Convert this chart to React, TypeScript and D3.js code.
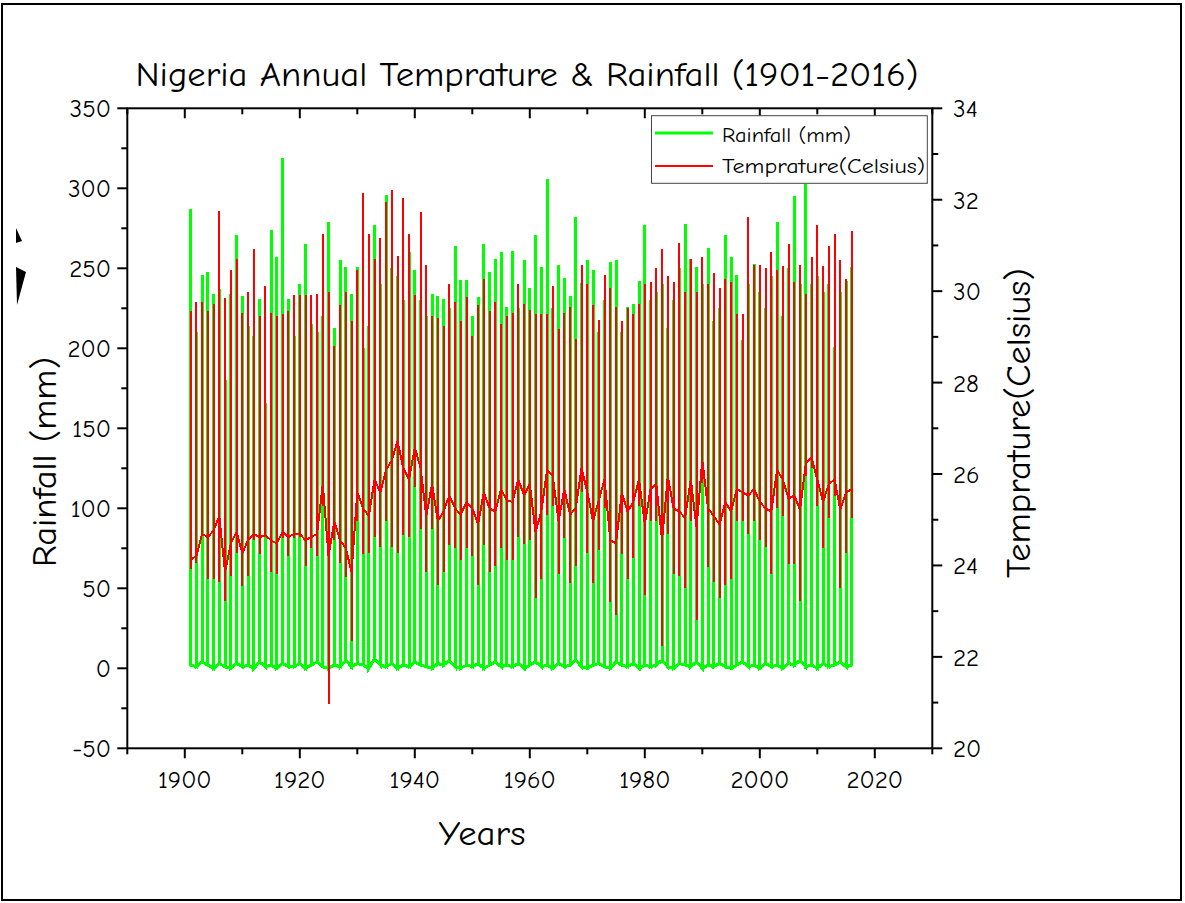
import * as d3 from 'd3';

// years 1901..2016, one vertical spike per year (all monthly values share the same x)
const years = d3.range(1901, 2017);

// rainfall (mm): wettest month per year, and driest month per year
const rainPeak = [
    287, 210, 246, 248, 234, 237, 180, 234, 271, 233,
    214, 208, 231, 166, 274, 257, 319, 231, 208, 240,
    265, 215, 210, 220, 279, 213, 255, 251, 234, 251,
    200, 214, 277, 240, 296, 250, 245, 230, 260, 249,
    230, 220, 234, 233, 231, 225, 264, 243, 243, 220,
    232, 265, 248, 256, 260, 226, 261, 225, 255, 238,
    271, 251, 306, 225, 252, 244, 233, 282, 241, 255,
    249, 210, 230, 254, 255, 210, 226, 228, 242, 277,
    230, 235, 240, 213, 230, 250, 278, 256, 251, 240,
    263, 217, 225, 271, 257, 246, 205, 240, 253, 235,
    225, 245, 279, 220, 250, 295, 240, 303, 240, 245,
    235, 240, 201, 235, 242, 251,
];
const rainLow = [
    2, 1, 4, 2, 0, 3, 1, 0, 3, 1,
    2, 0, 4, 1, 2, 0, 3, 1, 1, 3,
    0, 2, 4, 1, 0, 2, 1, 5, 1, 3,
    2, 0, 6, 2, 1, 3, 0, 2, 1, 4,
    2, 1, 0, 3, 2, 5, 1, 0, 2, 1,
    3, 0, 2, 4, 1, 2, 1, 3, 0, 2,
    4, 1, 2, 0, 3, 1, 2, 5, 1, 0,
    2, 3, 1, 0, 4, 2, 1, 3, 0, 2,
    1, 2, 5, 1, 0, 3, 2, 1, 4, 0,
    2, 1, 3, 1, 0, 2, 4, 1, 2, 0,
    3, 1, 2, 0, 3, 2, 5, 1, 2, 0,
    3, 1, 2, 4, 1, 2,
];

// temperature (Celsius): hottest month, coolest month, and Dec/Jan level per year
const tempMax = [
    29.56, 29.77, 29.77, 29.56, 29.73, 31.76, 29.84, 30.47, 30.71, 29.52,
    29.98, 30.92, 29.45, 30.12, 29.52, 29.45, 29.49, 29.56, 29.91, 29.91,
    29.91, 29.91, 29.94, 31.24, 29.98, 28.79, 29.70, 29.98, 29.35, 30.47,
    32.15, 31.24, 30.71, 31.17, 31.94, 32.22, 30.78, 32.04, 31.24, 29.91,
    31.73, 30.57, 29.45, 29.42, 29.24, 30.15, 29.77, 29.35, 29.87, 29.03,
    29.70, 30.26, 29.56, 29.77, 29.28, 29.45, 29.52, 30.15, 29.73, 29.59,
    29.49, 29.49, 29.49, 30.12, 29.17, 29.52, 29.66, 28.96, 30.57, 30.15,
    29.70, 29.38, 30.36, 30.08, 29.66, 29.35, 29.63, 29.49, 29.73, 30.15,
    30.19, 30.50, 30.92, 30.33, 30.19, 31.06, 29.98, 30.71, 29.98, 30.75,
    30.15, 30.40, 30.08, 30.26, 30.19, 29.49, 29.49, 31.62, 30.57, 30.57,
    30.50, 30.85, 30.47, 30.54, 31.03, 30.19, 30.57, 29.94, 30.75, 31.45,
    30.54, 30.99, 31.24, 30.68, 30.26, 31.31,
];
const tempMin = [
    23.92, 24.06, 24.69, 23.71, 23.71, 23.64, 23.22, 23.78, 24.27, 23.54,
    23.78, 24.55, 24.24, 24.62, 23.85, 23.82, 24.59, 24.20, 24.59, 24.62,
    23.99, 24.38, 24.20, 25.29, 20.98, 24.55, 24.06, 23.75, 22.35, 24.97,
    24.24, 24.27, 24.62, 24.41, 24.97, 24.41, 24.27, 24.66, 24.62, 25.71,
    24.80, 23.85, 24.80, 23.57, 23.85, 24.45, 24.38, 24.13, 24.38, 24.20,
    23.57, 24.45, 23.85, 23.99, 24.38, 24.13, 24.13, 24.62, 24.48, 24.55,
    23.29, 23.71, 25.11, 25.29, 23.82, 24.59, 23.61, 23.99, 25.60, 24.27,
    23.61, 24.34, 25.25, 23.19, 22.91, 24.24, 23.71, 24.17, 25.29, 23.36,
    24.97, 24.97, 22.24, 24.69, 23.82, 23.78, 23.50, 24.97, 22.80, 25.81,
    23.96, 23.64, 23.29, 23.57, 23.71, 24.97, 24.97, 24.69, 24.97, 24.55,
    24.41, 23.82, 25.25, 25.08, 24.03, 24.03, 23.22, 25.95, 26.13, 25.29,
    24.38, 25.04, 25.53, 23.50, 24.27, 25.04,
];
const tempEdge = [
    24.13, 24.20, 24.69, 24.62, 24.76, 25.08, 23.85, 24.48, 24.73, 24.27,
    24.55, 24.69, 24.62, 24.66, 24.55, 24.48, 24.73, 24.62, 24.69, 24.69,
    24.55, 24.62, 24.69, 25.78, 24.20, 24.97, 24.55, 24.38, 23.85, 25.60,
    25.25, 25.08, 25.88, 25.60, 26.09, 26.30, 26.72, 26.13, 25.88, 26.58,
    26.13, 25.08, 25.78, 24.97, 25.18, 25.53, 25.25, 25.11, 25.39, 25.25,
    24.90, 25.60, 25.25, 25.18, 25.67, 25.43, 25.39, 25.88, 25.53, 25.78,
    24.73, 25.18, 26.09, 25.95, 24.97, 25.67, 25.11, 25.25, 26.13, 25.60,
    24.97, 25.43, 25.88, 24.55, 24.48, 25.60, 25.18, 25.39, 25.88, 24.90,
    25.67, 25.78, 24.55, 25.95, 25.25, 25.18, 25.04, 25.88, 24.83, 26.30,
    25.25, 25.08, 24.90, 25.39, 25.18, 25.67, 25.60, 25.53, 25.67, 25.39,
    25.25, 25.18, 26.09, 25.88, 25.46, 25.53, 25.22, 26.23, 26.37, 25.88,
    25.39, 25.78, 25.88, 25.22, 25.60, 25.67,
];

const xTicks = d3.range(1890, 2031, 10);
const xLabels = [1900, 1920, 1940, 1960, 1980, 2000, 2020];
const rainTicks = d3.range(-50, 351, 25);
const tempTicks = d3.range(20, 35, 1);

const W = 1185;
const H = 903;
const margin = { top: 108.3, right: 252.7, bottom: 154.7, left: 127.3 };
const FONT = "'Comic Sans MS', 'Comic Neue', 'DejaVu Sans', sans-serif";

const App = () => {
    const x = d3.scaleLinear().domain([1890, 2030]).range([margin.left, W - margin.right]);
    const yRain = d3.scaleLinear().domain([-50, 350]).range([H - margin.bottom, margin.top]);
    const yTemp = d3.scaleLinear().domain([20, 34]).range([H - margin.bottom, margin.top]);

    const x0 = margin.left;
    const x1 = W - margin.right;
    const y0 = H - margin.bottom;
    const y1 = margin.top;

    // rain: low -> peak -> low at each year, then on to the next year
    const rainPts = years.flatMap((yr, i) =>
        [[yr, rainLow[i]], [yr, rainPeak[i]], [yr, rainLow[i]]] as [number, number][]);
    // temp: edge -> max -> min -> edge at each year, joined Dec -> Jan
    const tempPts = years.flatMap((yr, i) =>
        [[yr, tempEdge[i]], [yr, tempMax[i]], [yr, tempMin[i]], [yr, tempEdge[i]]] as [number, number][]);

    const rainLine = d3.line<[number, number]>().x(d => x(d[0])).y(d => yRain(d[1]));
    const tempLine = d3.line<[number, number]>().x(d => x(d[0])).y(d => yTemp(d[1]));

    const major = 10;
    const minor = 6;

    return (
        <svg width={W} height={H} style={{ position: 'absolute', left: 0, top: 0, background: '#fff' }}
            fontFamily={FONT}>
            <rect x={2} y={4} width={1179} height={896} fill='none' stroke='#000' strokeWidth={2} />

            {/* stray marks on the left edge */}
            <path d='M16,228 L22,241 L16,243 Z' fill='#000' />
            <path d='M16,267 L26,272 L17,305 Z' fill='#000' />

            <text x={527} y={86} fontSize={34} textAnchor='middle' textLength={783}
                lengthAdjust='spacingAndGlyphs'>Nigeria Annual Temprature &amp; Rainfall (1901-2016)</text>

            <defs>
                <clipPath id='plot'>
                    <rect x={x0} y={y1} width={x1 - x0} height={y0 - y1} />
                </clipPath>
            </defs>

            <g clipPath='url(#plot)'>
                <path d={rainLine(rainPts) as string} fill='none' stroke='#00FF00' strokeWidth={3}
                    shapeRendering='crispEdges' />
                <path d={tempLine(tempPts) as string} fill='none' stroke='#FF0000' strokeWidth={2}
                    shapeRendering='crispEdges' />
            </g>

            {/* bottom + top axis ticks */}
            {xTicks.map(t => {
                const len = t % 20 === 0 ? major : minor;
                return (
                    <g key={'x' + t}>
                        <line x1={x(t)} x2={x(t)} y1={y0} y2={y0 + len} stroke='#000' strokeWidth={2} />
                        <line x1={x(t)} x2={x(t)} y1={y1} y2={y1 + len} stroke='#000' strokeWidth={2} />
                    </g>
                );
            })}
            {xLabels.map(t => (
                <text key={'xl' + t} x={x(t)} y={788} fontSize={25} textAnchor='middle'>{t}</text>
            ))}

            {/* left axis (rainfall) */}
            {rainTicks.map(t => {
                const len = t % 50 === 0 ? major : minor;
                return <line key={'r' + t} x1={x0 - len} x2={x0} y1={yRain(t)} y2={yRain(t)}
                    stroke='#000' strokeWidth={2} />;
            })}
            {rainTicks.filter(t => t % 50 === 0).map(t => (
                <text key={'rl' + t} x={111} y={yRain(t)} dy='0.36em' fontSize={25} textAnchor='end'>{t}</text>
            ))}

            {/* right axis (temperature) */}
            {tempTicks.map(t => {
                const len = t % 2 === 0 ? major : minor;
                return <line key={'t' + t} x1={x1} x2={x1 + len} y1={yTemp(t)} y2={yTemp(t)}
                    stroke='#000' strokeWidth={2} />;
            })}
            {tempTicks.filter(t => t % 2 === 0).map(t => (
                <text key={'tl' + t} x={953} y={yTemp(t)} dy='0.36em' fontSize={25}>{t}</text>
            ))}

            <rect x={x0} y={y1} width={x1 - x0} height={y0 - y1} fill='none' stroke='#000' strokeWidth={2} />

            <text x={482} y={845} fontSize={34} textAnchor='middle' textLength={87}
                lengthAdjust='spacingAndGlyphs'>Years</text>
            <text transform='translate(56,462) rotate(-90)' fontSize={34} textAnchor='middle' textLength={210}
                lengthAdjust='spacingAndGlyphs'>Rainfall (mm)</text>
            <text transform='translate(1030,423) rotate(-90)' fontSize={34} textAnchor='middle' textLength={310}
                lengthAdjust='spacingAndGlyphs'>Temprature(Celsius)</text>

            {/* legend */}
            <rect x={651.5} y={115.7} width={275.8} height={67.6} fill='#fff' stroke='#444' strokeWidth={1} />
            <line x1={655} x2={713} y1={133} y2={133} stroke='#00FF00' strokeWidth={3} />
            <line x1={655} x2={713} y1={166} y2={166} stroke='#FF0000' strokeWidth={2} />
            <text x={722} y={142} fontSize={20} textLength={129} lengthAdjust='spacingAndGlyphs'>Rainfall (mm)</text>
            <text x={722} y={173} fontSize={20} textLength={203}
                lengthAdjust='spacingAndGlyphs'>Temprature(Celsius)</text>
        </svg>
    );
};

export default App;
